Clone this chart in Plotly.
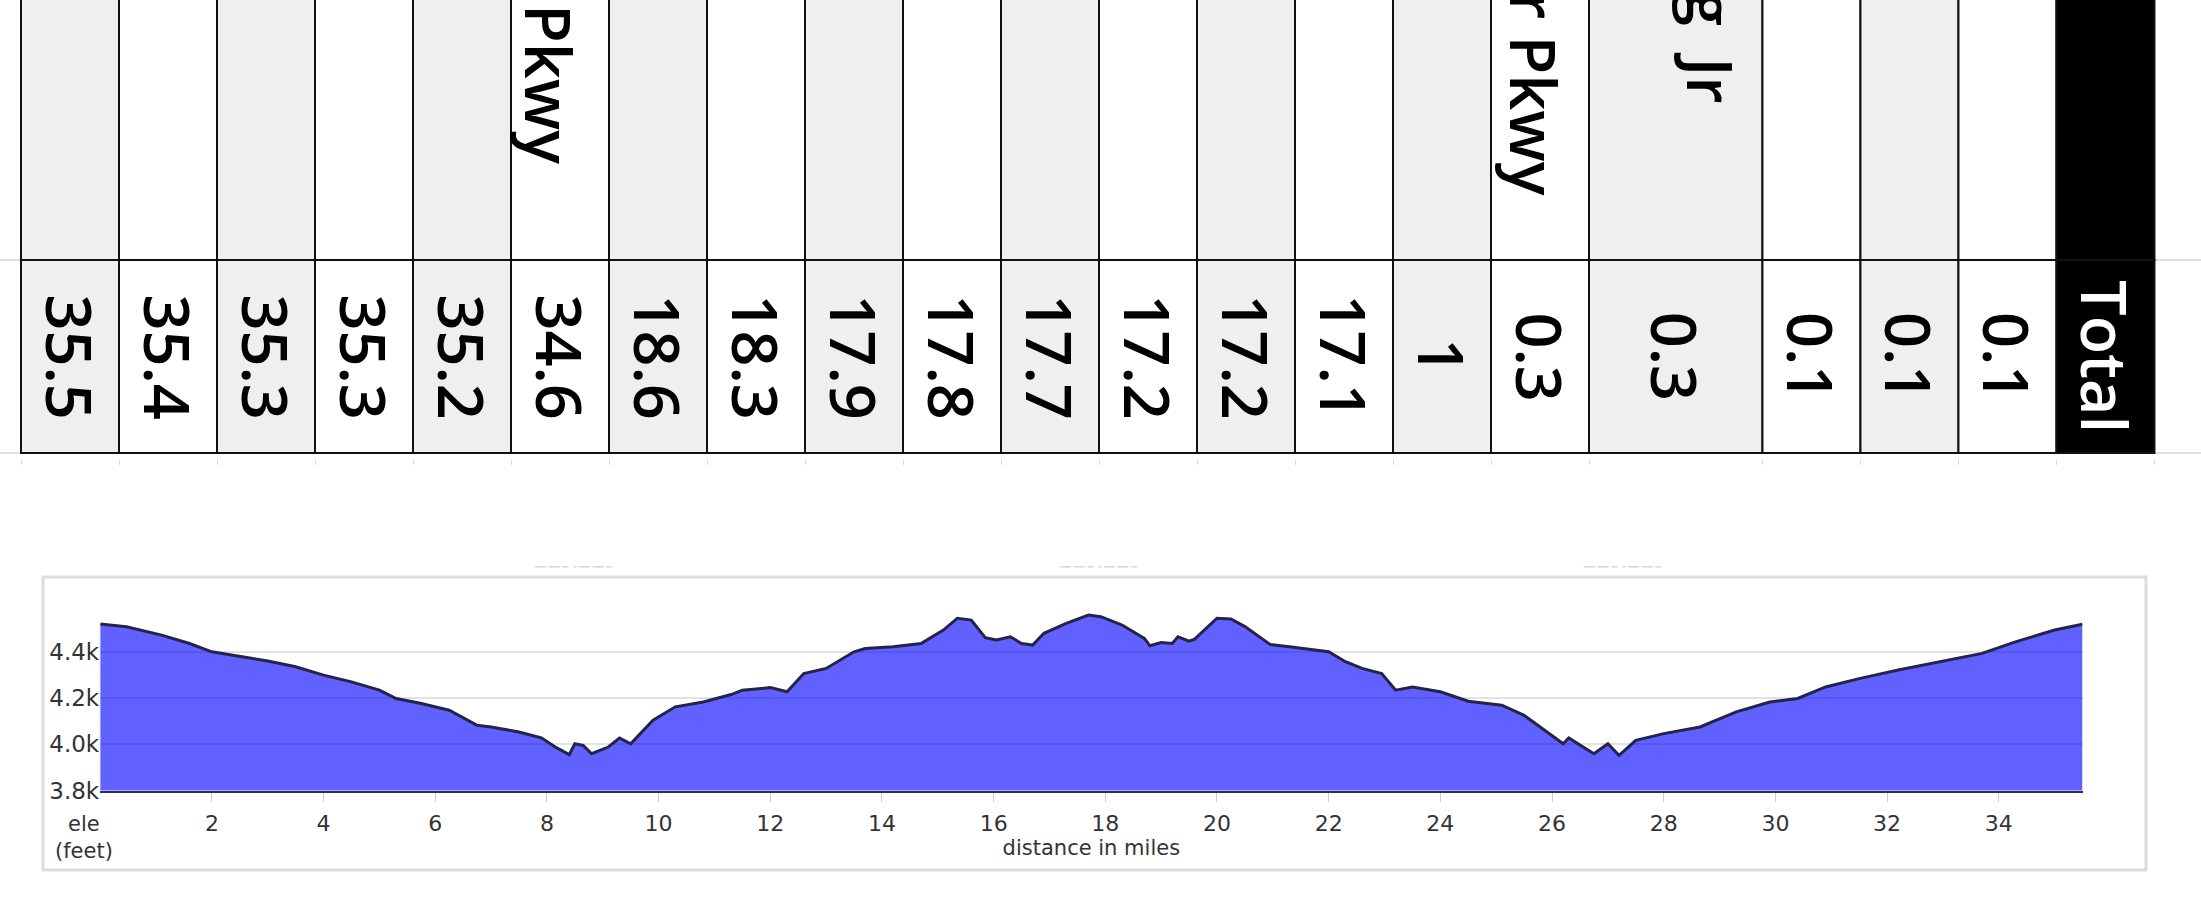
import plotly.graph_objects as go

# ---------------- data ----------------
# table (rotated layout): one value per column, header fragments visible at the top
col_values = [35.5, 35.4, 35.3, 35.3, 35.2, 34.6, 18.6, 18.3, 17.9, 17.8,
              17.7, 17.2, 17.2, 17.1, 1, 0.3, 0.3, 0.1, 0.1, 0.1]
col_headers = ["", "", "", "", "", "Pkwy", "", "", "", "",
               "", "", "", "", "", "r Pkwy", "King\u2002Jr", "", "", ""]
total_label = "Total"

# elevation profile
dist_miles = [0, 0.47, 1.1, 1.6, 2.0, 2.4, 3.0, 3.5, 4.0, 4.5,
              5.0, 5.3, 5.75, 6.25, 6.75, 7.0, 7.5, 7.9, 8.15, 8.4,
              8.5, 8.65, 8.8, 9.1, 9.3, 9.5, 9.9, 10.3, 10.8, 11.3,
              11.5, 12.0, 12.3, 12.6, 13.0, 13.5, 13.7, 14.2, 14.7, 15.1,
              15.35, 15.6, 15.85, 16.05, 16.3, 16.5, 16.7, 16.9, 17.3, 17.7,
              17.92, 18.3, 18.7, 18.8, 19.0, 19.2, 19.3, 19.5, 19.6, 20.0,
              20.25, 20.5, 20.95, 21.3, 22.0, 22.3, 22.6, 22.95, 23.2, 23.5,
              24.0, 24.5, 25.1, 25.5, 26.0, 26.2, 26.3, 26.75, 27.0, 27.2,
              27.5, 28.0, 28.65, 29.3, 29.9, 30.4, 30.9, 31.5, 32.2, 33.0,
              33.7, 34.3, 35.0, 35.5]
elev_feet = [4520, 4508, 4472, 4436, 4400, 4383, 4360, 4335, 4299, 4270,
             4234, 4198, 4176, 4147, 4082, 4075, 4053, 4028, 3988, 3955,
             4002, 3995, 3959, 3988, 4027, 4002, 4104, 4162, 4183, 4215,
             4234, 4245, 4227, 4306, 4328, 4400, 4414, 4422, 4436, 4494,
             4545, 4537, 4461, 4451, 4465, 4436, 4429, 4480, 4523, 4559,
             4552, 4516, 4458, 4426, 4440, 4436, 4465, 4446, 4455, 4545,
             4542, 4509, 4432, 4422, 4400, 4357, 4328, 4306, 4234, 4248,
             4227, 4186, 4169, 4125, 4039, 4002, 4027, 3959, 4002, 3952,
             4017, 4046, 4075, 4140, 4183, 4198, 4248, 4284, 4321, 4360,
             4393, 4443, 4494, 4519]
x_tick_vals = [2, 4, 6, 8, 10, 12, 14, 16, 18, 20, 22, 24, 26, 28, 30, 32, 34]
y_tick_vals = [3800, 4000, 4200, 4400]
y_tick_text = ["3.8k", "4.0k", "4.2k", "4.4k"]

# ---------------- layout constants ----------------
W, H = 2201, 905
COL_PX = 98.0          # px per table column unit
TABLE_LEFT_PX = 21
ROW_PX = 193.0         # px of the value row
SPLIT_PX = 260         # px y of header/value split
TABLE_BOTTOM_PX = 453
Y2_BOTTOM_PX = 458

n = len(col_values)
col_widths = [1.77 if i == 16 else 1.0 for i in range(n)] + [1.0]
edges = [0.0]
for w in col_widths:
    edges.append(edges[-1] + w)
centers = [(edges[i] + edges[i + 1]) / 2 for i in range(len(col_widths))]
fills = [("#efefef" if i % 2 == 0 else "#ffffff") for i in range(n)] + ["#000000"]

x2_range = [-TABLE_LEFT_PX / COL_PX, (W - TABLE_LEFT_PX) / COL_PX]
y2_range = [-(Y2_BOTTOM_PX - TABLE_BOTTOM_PX) / ROW_PX, 1 + SPLIT_PX / ROW_PX]

TFONT = "Open Sans"
CFONT = "DejaVu Sans"
TSIZE = 63
TWEIGHT = 600

fig = go.Figure()

# table cells: value row and header row
fig.add_trace(go.Bar(x=centers, y=[1.0] * len(centers), base=0, width=col_widths,
                     marker=dict(color=fills, line=dict(color="#111111", width=2)),
                     xaxis="x2", yaxis="y2", hoverinfo="skip", showlegend=False))
fig.add_trace(go.Bar(x=centers, y=[2.0] * len(centers), base=1, width=col_widths,
                     marker=dict(color=fills, line=dict(color="#111111", width=2)),
                     xaxis="x2", yaxis="y2", hoverinfo="skip", showlegend=False))

# elevation profile
fig.add_trace(go.Scatter(x=dist_miles, y=elev_feet, mode="lines", fill="tozeroy",
                         fillcolor="rgba(0,0,255,0.62)",
                         line=dict(color="#24244a", width=3),
                         hoverinfo="skip", showlegend=False))

annotations = []
for i, v in enumerate(col_values):
    annotations.append(dict(x=centers[i], y=0.5, xref="x2", yref="y2",
                            text=f"{v:g}", textangle=90, showarrow=False,
                            font=dict(family=TFONT, size=TSIZE, color="#000000",
                                      weight=TWEIGHT)))
annotations.append(dict(x=centers[-1], y=0.5, xref="x2", yref="y2",
                        text=total_label, textangle=90, showarrow=False,
                        font=dict(family=TFONT, size=TSIZE, color="#ffffff",
                                  weight=TWEIGHT)))

# header fragments: (end px, xshift px)
header_place = {5: (166, -10), 15: (198, -5), 16: (105, 36)}
for i, h in enumerate(col_headers):
    if not h:
        continue
    end_px, xs = header_place[i]
    annotations.append(dict(x=centers[i], y=1 + (SPLIT_PX - end_px) / ROW_PX,
                            xref="x2", yref="y2", yanchor="bottom", xshift=xs,
                            text=h, textangle=90, showarrow=False,
                            font=dict(family=TFONT, size=TSIZE, color="#000000",
                                      weight=TWEIGHT)))

# y-axis caption
annotations.append(dict(x=84 / W, y=1 - 837 / H, xref="paper", yref="paper",
                        xanchor="center", yanchor="middle",
                        text="ele<br>(feet)", showarrow=False,
                        font=dict(family=CFONT, size=21, color="#333333")))
# faint illegible labels above the chart frame
for px in (573, 1098, 1622):
    annotations.append(dict(x=px / W, y=1 - 567 / H, xref="paper", yref="paper",
                            xanchor="center", yanchor="middle",
                            text="━━ ━━ ━ ╺ ━━ ━━ ━", showarrow=False,
                            font=dict(family=CFONT, size=9, color="#d9d9d9")))

fig.update_layout(
    width=W, height=H,
    margin=dict(l=0, r=0, t=0, b=0, autoexpand=False),
    paper_bgcolor="#ffffff", plot_bgcolor="#ffffff",
    barmode="overlay",
    showlegend=False,
    xaxis=dict(domain=[100.2 / W, 2082.5 / W], range=[0, 35.5], automargin=False,
               tickvals=x_tick_vals, ticks="outside", ticklen=9, tickcolor="#cccccc",
               tickfont=dict(family=CFONT, size=22, color="#333333"),
               ticklabelstandoff=3,
               showline=True, linecolor="#2a2a66", linewidth=2,
               showgrid=False, zeroline=False, anchor="y",
               title=dict(text="distance in miles", standoff=2,
                          font=dict(family=CFONT, size=21, color="#333333"))),
    yaxis=dict(domain=[1 - 790.5 / H, 1 - 594 / H], range=[3800, 4650], automargin=False,
               tickvals=y_tick_vals, ticktext=y_tick_text, ticks="",
               tickfont=dict(family=CFONT, size=23, color="#333333"),
               showgrid=True, gridcolor="#e2e2e2", gridwidth=2,
               zeroline=False, showline=False, anchor="x"),
    xaxis2=dict(domain=[0, 1], range=x2_range, anchor="y2", automargin=False,
                tickvals=edges, ticks="outside", ticklen=6, tickcolor="#dddddd",
                showticklabels=False, showgrid=False, zeroline=False, showline=False),
    yaxis2=dict(domain=[1 - Y2_BOTTOM_PX / H, 1], range=y2_range, anchor="x2",
                automargin=False,
                tickvals=[0, 1], showticklabels=False, showgrid=True,
                gridcolor="#e0e0e0", gridwidth=2, zeroline=False, showline=False),
    shapes=[dict(type="rect", xref="paper", yref="paper",
                 x0=43 / W, x1=2146 / W, y0=1 - 870 / H, y1=1 - 577 / H,
                 line=dict(color="#dcdcdc", width=3), layer="below")],
    annotations=annotations,
)

# remove the browser's default page margin so the figure sits at the page origin
fig.write_html("out.html", config={"displayModeBar": False},
               post_script="document.body.style.margin='0px';document.body.style.padding='0px';")
